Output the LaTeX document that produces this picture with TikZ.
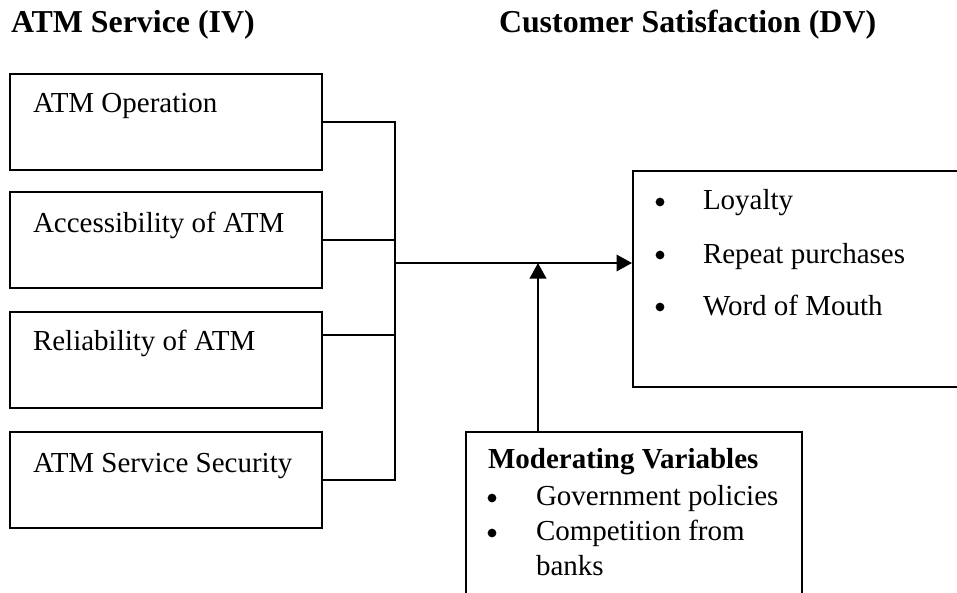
\documentclass[tikz,border=0pt]{standalone}
\usepackage{fontspec}
\setmainfont{Liberation Serif}
\usetikzlibrary{arrows.meta}
\newcommand\diagbody{\fontsize{11.6}{14}\selectfont}
\newcommand\diagtitle{\fontsize{12.75}{15}\selectfont\bfseries}
\begin{document}
\begin{tikzpicture}[x=0.4pt,y=-0.4pt,line width=0.8pt,
  ivbox/.style={draw,inner sep=0pt,minimum width=124.8pt,minimum height=38.4pt},
  bigbox/.style={draw,inner sep=0pt},
  lbl/.style={anchor=base west,inner sep=0pt,font=\diagbody},
  bul/.style={circle,fill,draw=none,inner sep=0pt,minimum size=3.5pt},
  ttl/.style={anchor=base west,inner sep=0pt,font=\diagtitle},
  arr/.style={-{Triangle[length=6.2pt,width=6.6pt]}}]
\useasboundingbox (0,0) rectangle (957,592);
\clip (0,0) rectangle (957,592);

% headings
\node[ttl] (tiv) at (10,33) {ATM Service (IV)};
\node[ttl] (tdv) at (498,33) {Customer Satisfaction (DV)};

% independent variable boxes
\node[ivbox] (op)  at (166,122) {};
\node[ivbox] (acc) at (166,240) {};
\node[ivbox] (rel) at (166,360) {};
\node[ivbox] (sec) at (166,480) {};
\node[lbl] (top)  at (32,113) {ATM Operation};
\node[lbl] (tacc) at (32,232) {Accessibility of ATM};
\node[lbl] (trel) at (32,350) {Reliability of ATM};
\node[lbl] (tsec) at (32,472) {ATM Service Security};

% dependent variable box
\node[bigbox,minimum width=136.8pt,minimum height=86.4pt] (dv) at (804,279) {};
\node[bul] (b1) at (660,202) {};
\node[bul] (b2) at (660,255) {};
\node[bul] (b3) at (660,307) {};
\node[lbl] (d1) at (702,210) {Loyalty};
\node[lbl] (d2) at (702,263) {Repeat purchases};
\node[lbl] (d3) at (702,315) {Word of Mouth};

% moderating variables box
\node[bigbox,minimum width=134.4pt,minimum height=71.2pt] (mod) at (634,521) {};
\node[lbl,font=\diagbody\bfseries] (mh) at (487,468) {Moderating Variables};
\node[bul] (m1) at (492,498) {};
\node[bul] (m2) at (492,533) {};
\node[lbl] (mt1) at (535,505) {Government policies};
\node[lbl] (mt2) at (535,540) {Competition from};
\node[lbl] (mt3) at (535,575) {banks};

% connectors
\coordinate (j1) at (395,122);
\coordinate (j2) at (395,240);
\coordinate (j3) at (395,335);
\coordinate (j4) at (395,480);
\coordinate (hub) at (395,263);
\coordinate (vx) at (538,0);
\draw (op.east) -- (j1) -- (j4) -- (sec.east);
\draw (acc.east) -- (j2);
\draw (rel.east |- j3) -- (j3);
\draw[arr] (hub) -- (hub -| dv.west);
\draw[arr] (mod.north -| vx) -- (vx |- hub);
\end{tikzpicture}
\end{document}
